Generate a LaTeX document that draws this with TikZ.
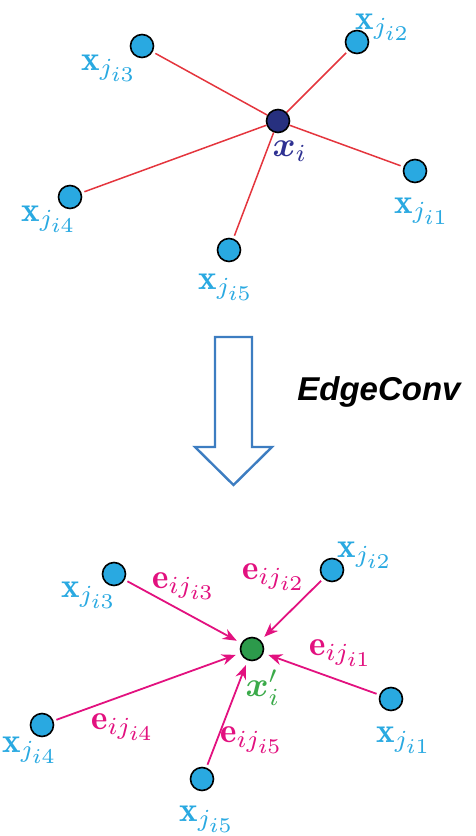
\documentclass[tikz,border=0pt]{standalone}
\usepackage{amsmath}
\usepackage{fontspec}
\setsansfont{Liberation Sans}
\usetikzlibrary{positioning, arrows.meta}

\definecolor{ptblue}{HTML}{29A9E1}
\definecolor{ctrnavy}{HTML}{27307F}
\definecolor{lblnavy}{HTML}{2E3192}
\definecolor{ctrgreen}{HTML}{2C9A4B}
\definecolor{lblgreen}{HTML}{3BAA4A}
\definecolor{linkred}{HTML}{E4353D}
\definecolor{edgemag}{HTML}{E2117F}
\definecolor{convblue}{HTML}{3D7DC1}

\DeclareMathSizes{10}{10}{7}{6}

\tikzset{
    pt/.style={circle, draw=black, line width=1.6pt, fill=ptblue, minimum size=23pt, inner sep=0pt},
    lbl/.style={text=ptblue, font=\normalsize, scale=3.5, inner sep=0pt},
    elbl/.style={text=edgemag, font=\normalsize, scale=3.5, inner sep=0pt},
    link/.style={linkred, line width=1.5pt, shorten <=3pt},
    edgearrow/.style={edgemag, line width=1.8pt, shorten <=3pt, shorten >=5pt,
        -{Stealth[length=14pt, width=11pt]}},
}

\begin{document}
\begin{tikzpicture}[x=1pt, y=1pt, on grid]
    \useasboundingbox (0,0) rectangle (475,-836);

    % before
    \node [pt, fill=ctrnavy, label={[xshift=12pt, yshift=-30pt, lbl, text=lblnavy]center:$\boldsymbol{x}_{i}$}] (xi) at (278,-121) {};

    \node [pt, above left=75pt and 136pt of xi, label={[xshift=-33pt, yshift=-22pt, lbl]center:$\mathbf{x}_{j_{i3}}$}] (j3) {};
    \node [pt, above right=79pt and 79pt of xi, label={[xshift=26pt, yshift=15pt, lbl]center:$\mathbf{x}_{j_{i2}}$}] (j2) {};
    \node [pt, below right=50pt and 137pt of xi, label={[xshift=7pt, yshift=-40pt, lbl]center:$\mathbf{x}_{j_{i1}}$}] (j1) {};
    \node [pt, below left=76pt and 208pt of xi, label={[xshift=-21pt, yshift=-22pt, lbl]center:$\mathbf{x}_{j_{i4}}$}] (j4) {};
    \node [pt, below left=129pt and 49pt of xi, label={[xshift=-3pt, yshift=-37pt, lbl]center:$\mathbf{x}_{j_{i5}}$}] (j5) {};

    \foreach \n in {1,...,5}
        \draw [link] (j\n) -- (xi);

    % EdgeConv
    \draw [convblue, line width=2.4pt, line join=miter, fill=white]
        (215,-337) -- (252,-337) -- (252,-447) -- (272,-447) -- (233.5,-485)
        -- (195,-447) -- (215,-447) -- cycle;
    \node [anchor=base, font=\sffamily\itshape\bfseries\fontsize{33}{38}\selectfont] (conv) at (379,-400) {EdgeConv};

    % after
    \node [pt, fill=ctrgreen, label={[xshift=11pt, yshift=-39pt, lbl, text=lblgreen]center:$\boldsymbol{x}'_{i}$}] (xc) at (252,-649) {};

    \node [pt, above left=75pt and 138pt of xc, label={[xshift=-25pt, yshift=-21pt, lbl]center:$\mathbf{x}_{j_{i3}}$}] (k3) {};
    \node [pt, above right=79pt and 80pt of xc, label={[xshift=33pt, yshift=15pt, lbl]center:$\mathbf{x}_{j_{i2}}$}] (k2) {};
    \node [pt, below right=50pt and 139pt of xc, label={[xshift=13pt, yshift=-41pt, lbl]center:$\mathbf{x}_{j_{i1}}$}] (k1) {};
    \node [pt, below left=76pt and 210pt of xc, label={[xshift=-12pt, yshift=-25pt, lbl]center:$\mathbf{x}_{j_{i4}}$}] (k4) {};
    \node [pt, below left=130pt and 50pt of xc, label={[xshift=5pt, yshift=-40pt, lbl]center:$\mathbf{x}_{j_{i5}}$}] (k5) {};

    \draw [edgearrow] (k3) -- node [xshift=1pt, yshift=25.5pt, elbl] (e3) {$\mathbf{e}_{ij_{i3}}$} (xc);
    \draw [edgearrow] (k2) -- node [xshift=-18pt, yshift=32.5pt, elbl] (e2) {$\mathbf{e}_{ij_{i2}}$} (xc);
    \draw [edgearrow] (k1) -- node [xshift=19.5pt, yshift=21pt, elbl] (e1) {$\mathbf{e}_{ij_{i1}}$} (xc);
    \draw [edgearrow] (k4) -- node [xshift=-24pt, yshift=-40pt, elbl] (e4) {$\mathbf{e}_{ij_{i4}}$} (xc);
    \draw [edgearrow] (k5) -- node [xshift=25pt, yshift=-26pt, elbl] (e5) {$\mathbf{e}_{ij_{i5}}$} (xc);

\end{tikzpicture}
\end{document}
